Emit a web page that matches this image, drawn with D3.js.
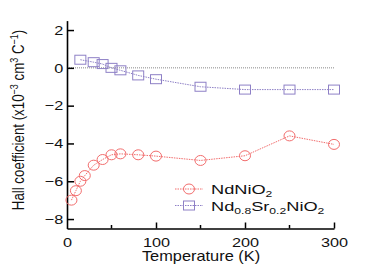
<!DOCTYPE html>
<html>
<head>
<meta charset="utf-8">
<script src="https://cdn.jsdelivr.net/npm/d3@7"></script>
<style>
  body { margin: 0; background: #fff; }
  text { font-family: "Liberation Sans", Arial, sans-serif; fill: #111; }
</style>
</head>
<body>
<div id="chart"></div>
<script>
// NdNiO2 (circles)
var ndTemps = [5, 10, 15, 20, 30, 40, 50, 60, 80, 100, 150, 200, 250, 300];
var ndHall = [-7.0, -6.5, -6.0, -5.7, -5.15, -4.85, -4.6, -4.55, -4.6, -4.67, -4.9, -4.65, -3.6, -4.05];
// Nd0.8Sr0.2NiO2 (squares)
var srTemps = [15, 30, 40, 50, 60, 80, 100, 150, 200, 250, 300];
var srHall = [0.43, 0.3, 0.2, 0.0, -0.13, -0.4, -0.6, -1.0, -1.15, -1.15, -1.15];
var xTicks = [0, 100, 200, 300];
var xMinor = [50, 150, 250];
var yTicks = [-8, -6, -4, -2, 0, 2];

var W = 382, H = 273;
var red = "#f26d6d", purple = "#8e80c6";
var sx = 1.25; // text in the picture is stretched sideways

var svg = d3.select("#chart").append("svg")
  .attr("width", W).attr("height", H);

var x = d3.scaleLinear().domain([0, 300]).range([67, 334]);
var y = d3.scaleLinear().domain([-8.5, 2.5]).range([228.5, 20.6]);

// zero line
svg.append("line")
  .attr("x1", x(0)).attr("x2", x(300))
  .attr("y1", y(0)).attr("y2", y(0))
  .attr("stroke", "#888").attr("stroke-width", 1)
  .attr("stroke-dasharray", "1,1");

// axes
var ax = svg.append("g").attr("transform", "translate(0," + y(-8.5) + ")");
ax.call(d3.axisBottom(x).tickValues(xTicks).tickSizeInner(-6).tickSizeOuter(0).tickPadding(9).tickFormat(d3.format("d")));
ax.selectAll(".tick").filter(function(d) { return d == 0; }).select("line").remove();
ax.append("g").selectAll("line").data(xMinor).enter().append("line")
  .attr("x1", function(d) { return x(d); }).attr("x2", function(d) { return x(d); })
  .attr("y1", 0).attr("y2", -3.5).attr("stroke", "#000").attr("stroke-width", 1.5);

var ay = svg.append("g").attr("transform", "translate(" + x(0) + ",0)");
ay.call(d3.axisLeft(y).tickValues(yTicks).tickSizeInner(-7).tickSizeOuter(0).tickPadding(4)
  .tickFormat(function(d) { return d < 0 ? "\u2212" + Math.abs(d) : d; }));

svg.selectAll(".domain").attr("stroke", "#000").attr("stroke-width", 1.6);
svg.selectAll(".tick line").attr("stroke", "#000").attr("stroke-width", 1.5);
svg.selectAll(".tick text").attr("font-size", 13).attr("fill", "#111")
  .style("font-family", "'Liberation Sans', Arial, sans-serif");
ax.selectAll(".tick text").attr("transform", "scale(" + sx + ",1)");
ay.selectAll(".tick text")
  .attr("transform", "translate(-5,0) scale(" + sx + ",1) translate(5,0)");

// lines
var line = d3.line().x(function(d) { return x(d[0]); }).y(function(d) { return y(d[1]); });
var ndData = d3.zip(ndTemps, ndHall);
var srData = d3.zip(srTemps, srHall);

svg.append("path").datum(srData).attr("d", line)
  .attr("fill", "none").attr("stroke", purple).attr("stroke-width", 1)
  .attr("stroke-dasharray", "1.5,1");
svg.append("path").datum(ndData).attr("d", line)
  .attr("fill", "none").attr("stroke", red).attr("stroke-width", 1)
  .attr("stroke-dasharray", "1.5,1");

svg.selectAll(".sq").data(srData).enter().append("rect")
  .attr("x", function(d) { return x(d[0]) - 5.5; })
  .attr("y", function(d) { return y(d[1]) - 4.5; })
  .attr("width", 11).attr("height", 9)
  .attr("fill", "none").attr("stroke", purple).attr("stroke-width", 1);

svg.selectAll(".ci").data(ndData).enter().append("ellipse")
  .attr("cx", function(d) { return x(d[0]); })
  .attr("cy", function(d) { return y(d[1]); })
  .attr("rx", 5.5).attr("ry", 5)
  .attr("fill", "none").attr("stroke", red).attr("stroke-width", 1);

// axis labels
svg.append("text")
  .attr("transform", "translate(201,261) scale(1.17,1)")
  .attr("text-anchor", "middle").attr("font-size", 14)
  .text("Temperature (K)");

var yl = svg.append("text")
  .attr("transform", "translate(24,120) scale(1.25,1) rotate(-90)")
  .attr("text-anchor", "middle").attr("font-size", 13.3);
yl.append("tspan").text("Hall coefficient (x10");
yl.append("tspan").attr("dy", -5).attr("font-size", 9).text("\u22123");
yl.append("tspan").attr("dy", 5).text(" cm");
yl.append("tspan").attr("dy", -5).attr("font-size", 9).text("3");
yl.append("tspan").attr("dy", 5).text(" C");
yl.append("tspan").attr("dy", -5).attr("font-size", 9).text("\u22121");
yl.append("tspan").attr("dy", 5).text(")");

// legend
var leg = svg.append("g");
leg.append("line").attr("x1", 175).attr("x2", 203).attr("y1", 189).attr("y2", 189)
  .attr("stroke", red).attr("stroke-dasharray", "1.5,1");
leg.append("ellipse").attr("cx", 189).attr("cy", 189).attr("rx", 5.5).attr("ry", 5)
  .attr("fill", "none").attr("stroke", red);
leg.append("line").attr("x1", 175).attr("x2", 203).attr("y1", 205.5).attr("y2", 205.5)
  .attr("stroke", purple).attr("stroke-dasharray", "1.5,1");
leg.append("rect").attr("x", 183.5).attr("y", 201).attr("width", 11).attr("height", 9)
  .attr("fill", "none").attr("stroke", purple);

var t1 = leg.append("text").attr("transform", "translate(211,194) scale(1.35,1)").attr("font-size", 13.5);
t1.append("tspan").text("NdNiO");
t1.append("tspan").attr("dy", 3).attr("font-size", 9).text("2");

var t2 = leg.append("text").attr("transform", "translate(211,210.5) scale(1.35,1)").attr("font-size", 13.5);
t2.append("tspan").text("Nd");
t2.append("tspan").attr("dy", 3).attr("font-size", 9).text("0.8");
t2.append("tspan").attr("dy", -3).text("Sr");
t2.append("tspan").attr("dy", 3).attr("font-size", 9).text("0.2");
t2.append("tspan").attr("dy", -3).text("NiO");
t2.append("tspan").attr("dy", 3).attr("font-size", 9).text("2");
</script>
</body>
</html>
